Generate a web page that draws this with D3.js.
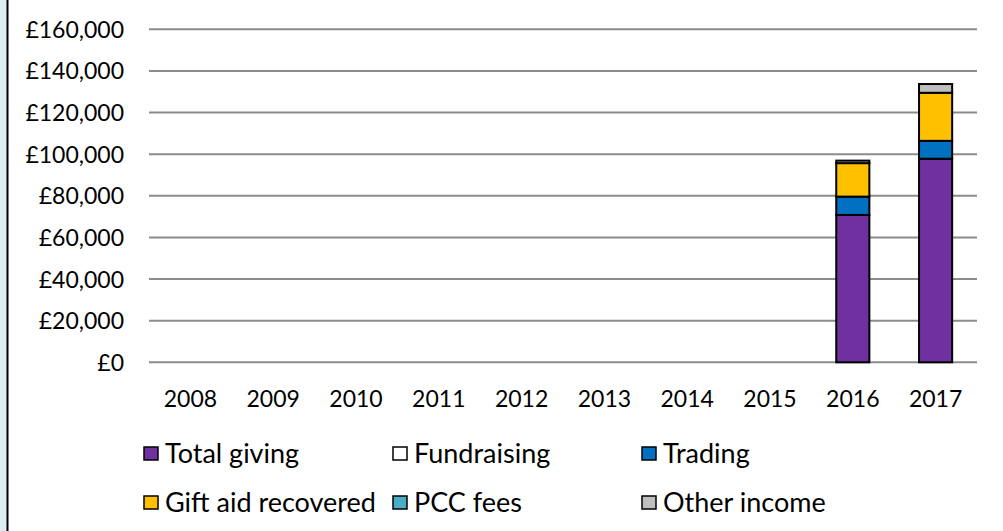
<!DOCTYPE html>
<html>
<head>
<meta charset="utf-8">
<script src="https://cdn.jsdelivr.net/npm/d3@7"></script>
<style>
  body { margin: 0; background: #fff; }
  svg text { font-family: "Lato", "DejaVu Sans", sans-serif; fill: #000; }
</style>
</head>
<body>
<div id="chart"></div>
<script>
var years = ["2008", "2009", "2010", "2011", "2012", "2013", "2014", "2015", "2016", "2017"];
var seriesNames = ["Total giving", "Fundraising", "Trading", "Gift aid recovered", "PCC fees", "Other income"];
var seriesColors = ["#7030A0", "#FFFFFF", "#0070C0", "#FFC000", "#4BACC6", "#BFBFBF"];

var totalGiving = [0, 0, 0, 0, 0, 0, 0, 0, 70800, 97800];
var fundraising = [0, 0, 0, 0, 0, 0, 0, 0, 0, 0];
var trading     = [0, 0, 0, 0, 0, 0, 0, 0, 8800, 8600];
var giftAid     = [0, 0, 0, 0, 0, 0, 0, 0, 16100, 23100];
var pccFees     = [0, 0, 0, 0, 0, 0, 0, 0, 0, 0];
var otherIncome = [0, 0, 0, 0, 0, 0, 0, 0, 1200, 4200];

var yTicks = [0, 20000, 40000, 60000, 80000, 100000, 120000, 140000, 160000];

var width = 1003, height = 531;
var svg = d3.select("#chart").append("svg").attr("width", width).attr("height", height);

// frame on the left
svg.append("rect").attr("x", 0).attr("y", 0).attr("width", 7).attr("height", height).attr("fill", "#DAEEF3");
svg.append("line").attr("x1", 7.5).attr("x2", 7.5).attr("y1", 0).attr("y2", height)
    .attr("stroke", "#000").attr("stroke-width", 2);

var x = d3.scaleBand().domain(years).range([149, 977]).paddingInner(0.6).paddingOuter(0.3);
var y = d3.scaleLinear().domain([0, 160000]).range([362.3, 29.3]);

// gridlines
svg.append("g").selectAll("line")
    .data(yTicks)
    .enter().append("line")
    .attr("x1", 149).attr("x2", 977)
    .attr("y1", function (d) { return y(d); })
    .attr("y2", function (d) { return y(d); })
    .attr("stroke", "#8C8C8C").attr("stroke-width", 2);

// y axis labels
var fmt = d3.format(",");
svg.append("g").selectAll("text")
    .data(yTicks)
    .enter().append("text")
    .attr("x", 124)
    .attr("y", function (d) { return y(d) + 8.5; })
    .attr("text-anchor", "end")
    .style("font-size", "23px")
    .text(function (d) { return "£" + fmt(d); });

// x labels
svg.append("g").selectAll("text")
    .data(years)
    .enter().append("text")
    .attr("x", function (d) { return x(d) + x.bandwidth() / 2; })
    .attr("y", 406.5)
    .attr("text-anchor", "middle")
    .style("font-size", "23px")
    .text(function (d) { return d; });

// stacked bars
var rows = years.map(function (yr, i) {
    return { year: yr, s0: totalGiving[i], s1: fundraising[i], s2: trading[i], s3: giftAid[i], s4: pccFees[i], s5: otherIncome[i] };
});
var stack = d3.stack().keys(["s0", "s1", "s2", "s3", "s4", "s5"]);
var layers = stack(rows);

svg.append("g").selectAll("g")
    .data(layers)
    .enter().append("g")
    .attr("fill", function (d, i) { return seriesColors[i]; })
    .selectAll("rect")
    .data(function (d) { return d.filter(function (p) { return p[1] - p[0] > 0; }); })
    .enter().append("rect")
    .attr("x", function (p) { return x(p.data.year); })
    .attr("y", function (p) { return y(p[1]); })
    .attr("width", x.bandwidth())
    .attr("height", function (p) { return y(p[0]) - y(p[1]); })
    .attr("stroke", "#000").attr("stroke-width", 2);

// legend
var legendPos = [
    [143, 446], [392, 446], [641, 446],
    [143, 495], [392, 495], [641, 495]
];
var legend = svg.append("g").selectAll("g")
    .data(seriesNames)
    .enter().append("g")
    .attr("transform", function (d, i) { return "translate(" + legendPos[i][0] + "," + legendPos[i][1] + ")"; });
legend.append("rect")
    .attr("x", 1).attr("y", 1).attr("width", 14).attr("height", 13)
    .attr("fill", function (d, i) { return seriesColors[i]; })
    .attr("stroke", "#000").attr("stroke-width", 1.5);
legend.append("text")
    .attr("x", 22).attr("y", 16.5)
    .style("font-size", "27px")
    .text(function (d) { return d; });
</script>
</body>
</html>
